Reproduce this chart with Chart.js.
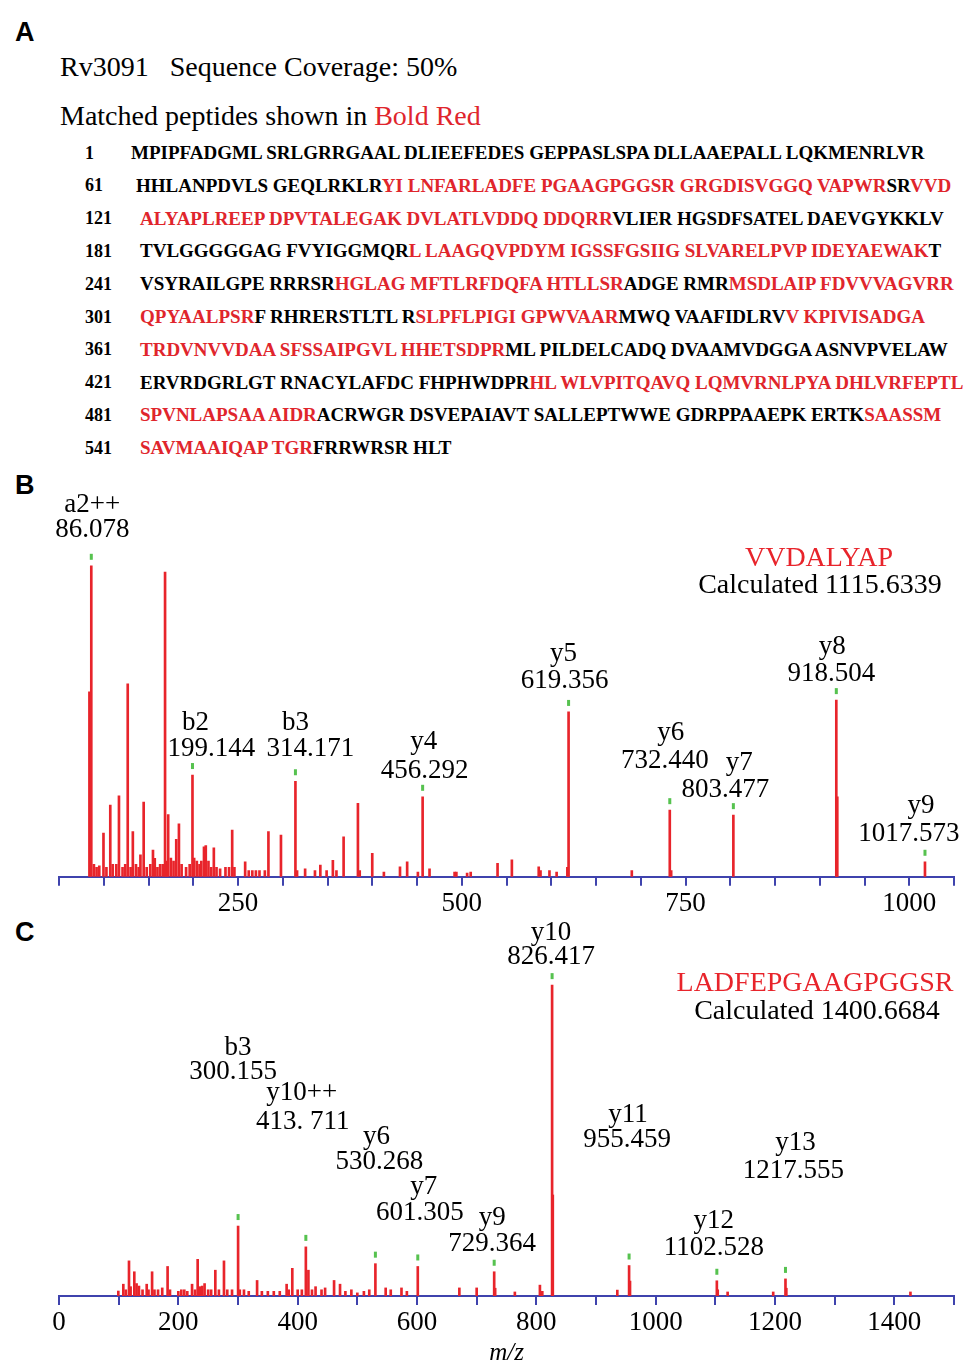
<!DOCTYPE html>
<html>
<head>
<meta charset="utf-8">
<script src="https://cdn.jsdelivr.net/npm/chart.js@4.4.1/dist/chart.umd.min.js"></script>
<style>
  body { margin: 0; width: 975px; height: 1371px; position: relative; background: #fff; overflow: hidden; font-family: "Liberation Serif", "Times New Roman", serif; color: #000; }
  .tag { position: absolute; left: 15px; font: bold 27px "Liberation Sans", Arial, sans-serif; line-height: 1; }
  .head { position: absolute; left: 60px; font-size: 28px; line-height: 1; white-space: pre; }
  .red { color: #e0252c; }
  .num { position: absolute; left: 85px; font-weight: bold; font-size: 18px; line-height: 1; }
  .seq { position: absolute; font-weight: bold; font-size: 19px; line-height: 1; white-space: pre; }
  canvas { position: absolute; left: 0; }
</style>
</head>
<body>
<div class="tag" style="top:19px">A</div>
<div class="tag" style="top:472px">B</div>
<div class="tag" style="top:919px">C</div>
<div class="head" style="top:53px">Rv3091   Sequence Coverage: 50%</div>
<div class="head" style="top:102px">Matched peptides shown in <span class="red">Bold Red</span></div>
<div id="seqbox"></div>

<canvas id="chartB" width="975" height="460" style="top:470px"></canvas>
<canvas id="chartC" width="975" height="456" style="top:915px"></canvas>

<script>
// panel A: Rv3091 sequence and matched peptide ranges (residue numbers)
const sequence =
  'MPIPFADGMLSRLGRRGAALDLIEEFEDESGEPPASLSPADLLAAEPALLLQKMENRLVR' +
  'HHLANPDVLSGEQLRKLRYILNFARLADFEPGAAGPGGSRGRGDISVGGQVAPWRSRVVD' +
  'ALYAPLREEPDPVTALEGAKDVLATLVDDQDDQRRVLIERHGSDFSATELDAEVGYKKLV' +
  'TVLGGGGGAGFVYIGGMQRLLAAGQVPDYMIGSSFGSIIGSLVARELPVPIDEYAEWAKT' +
  'VSYRAILGPERRRSRHGLAGMFTLRFDQFAHTLLSRADGERMRMSDLAIPFDVVVAGVRR' +
  'QPYAALPSRFRHRERSTLTLRSLPFLPIGIGPWVAARMWQVAAFIDLRVVKPIVISADGA' +
  'TRDVNVVDAASFSSAIPGVLHHETSDPRMLPILDELCADQDVAAMVDGGAASNVPVELAW' +
  'ERVRDGRLGTRNACYLAFDCFHPHWDPRHLWLVPITQAVQLQMVRNLPYADHLVRFEPTL' +
  'SPVNLAPSAAAIDRACRWGRDSVEPAIAVTSALLEPTWWEGDRPPAAEPKERTKSAASSM' +
  'SAVMAAIQAPTGRFRRWRSRHLT';
const matchedRanges = [[79, 115], [118, 155], [200, 239], [256, 276], [284, 309], [322, 337], [350, 388], [449, 494], [535, 553]];

// panel B: VVDALYAP spectrum
const mzB = [84.0, 86.08, 89, 92, 95, 99.7, 103, 107.3, 110, 114, 117, 121, 124, 126.8, 130, 132.5, 136, 139, 141, 144.6,
  148, 152, 155, 157, 160, 163, 166, 168.5, 170, 172, 175, 178, 181, 184, 187, 192, 196, 199.14, 201, 204,
  207, 209, 212, 214, 217, 220, 223, 226, 230, 236, 240, 243.5, 246, 258, 262, 266, 270, 274, 280, 284,
  298, 314.17, 316, 325, 336, 342, 349, 356, 360, 368, 384, 386, 400, 413, 431, 439, 451, 456.29, 464, 492,
  494, 506, 510, 540, 556, 586, 588, 598, 606, 618, 619.36, 690, 732.44, 734, 803.48, 918.5, 919.6, 1017.57];
const intB = [59.5, 100, 4, 3, 3.5, 14, 3, 23, 4, 4, 26, 3, 4, 62, 3, 14.5, 4, 3, 7, 24,
  3, 4, 8.6, 5.9, 3, 4, 4, 98, 5, 20, 6, 5, 12, 17, 4, 3, 4, 32.7, 6, 5,
  4, 5, 9.6, 10, 5, 3, 9.3, 3, 2.5, 3, 3, 15, 3, 4.8, 2, 2, 2, 2, 2, 14.5,
  13.4, 30.7, 2, 2.5, 2, 3.7, 2, 5.3, 2, 12.8, 23.6, 2, 7.5, 1.5, 3.2, 4.8, 1.5, 25.7, 2.5, 1.5,
  1.5, 1.2, 1.5, 4.3, 5.4, 3.2, 2, 2, 1.5, 3, 53, 2, 21.4, 2, 19.8, 56.8, 25.7, 4.8];
const ionNamesB = ['a2++', 'b2', 'b3', 'y4', 'y5', 'y6', 'y7', 'y8', 'y9'];
const ionMzB = [86.078, 199.144, 314.171, 456.292, 619.356, 732.440, 803.477, 918.504, 1017.573];
const ionTextB = ['86.078', '199.144', '314.171', '456.292', '619.356', '732.440', '803.477', '918.504', '1017.573'];
const peptideB = 'VVDALYAP';
const calcB = 'Calculated 1115.6339';
const ticksB = [250, 500, 750, 1000];

// panel C: LADFEPGAAGPGGSR spectrum
const mzC = [99.4, 107.8, 112, 117.3, 120, 126.2, 130, 134, 140, 147, 150, 156, 160, 166, 173, 182, 186, 200, 205, 210,
  215, 223, 228, 232.4, 236, 240, 244, 250, 255, 262, 268, 276.5, 282, 290, 300.16, 303, 310, 318, 332, 340,
  350, 360, 370, 381.5, 385, 391, 400, 407, 413.71, 418, 424, 430, 440, 446, 461, 471, 480, 490, 500, 511,
  520, 530.27, 547.5, 556, 574, 583, 601.31, 671, 700, 729.36, 731, 764, 806, 810, 826.42, 827.6, 935.7, 955.46, 957, 1102.53,
  1104, 1120.6, 1197, 1217.56, 1219, 1427];
const intC = [1.6, 3.8, 2, 11.3, 3, 7.8, 4, 3.2, 2, 3.8, 2, 7.8, 2, 2, 2.6, 9.5, 2, 1.5, 2, 2,
  1.5, 3.8, 2, 11.8, 3, 3.2, 4, 2, 2, 8.3, 2, 11.3, 2, 2, 22.5, 2, 2, 1.5, 5, 1.5,
  1.5, 1.5, 1.5, 3.8, 2, 8.9, 2, 2, 15.8, 8.3, 2, 3, 2, 2.6, 5, 3.8, 1.5, 2, 1, 1.5,
  2, 10.4, 2.6, 2, 2.6, 1.5, 9.5, 2.6, 2.6, 7.8, 2.5, 1.3, 3.5, 1.5, 100, 32.5, 1.9, 9.8, 4.8, 4.9,
  2, 1.3, 1.3, 5.5, 2.5, 1.3];
const ionNamesC = ['y10', 'b3', 'y10++', 'y6', 'y7', 'y9', 'y11', 'y12', 'y13'];
const ionMzC = [826.417, 300.155, 413.711, 530.268, 601.305, 729.364, 955.459, 1102.528, 1217.555];
const ionTextC = ['826.417', '300.155', '413. 711', '530.268', '601.305', '729.364', '955.459', '1102.528', '1217.555'];
const peptideC = 'LADFEPGAAGPGGSR';
const calcC = 'Calculated 1400.6684';
const ticksC = [0, 200, 400, 600, 800, 1000, 1200, 1400];

const RED = '#e8242b';
const GREEN = '#56c24f';
const BLUE = '#3f43ad';
const SERIF = '"Liberation Serif", "Times New Roman", serif';

// ---- panel A text ----
const rowIndent = [131, 136, 140, 140, 140, 140, 140, 140, 140, 140];
const box = document.getElementById('seqbox');
const isRed = i => matchedRanges.some(r => i >= r[0] && i <= r[1]);
for (let row = 0; row * 60 < sequence.length; row++) {
  const top = 143 + row * 32.8;
  const num = document.createElement('div');
  num.className = 'num';
  num.style.top = (top + 0.5) + 'px';
  num.textContent = row * 60 + 1;
  box.appendChild(num);

  const line = document.createElement('div');
  line.className = 'seq';
  line.style.top = top + 'px';
  line.style.left = rowIndent[row] + 'px';
  let html = '', cur = null;
  for (let k = 0; k < 60 && row * 60 + k < sequence.length; k++) {
    const pos = row * 60 + k + 1;
    if (k > 0 && k % 10 === 0) html += ' ';
    const red = isRed(pos);
    if (red !== cur) {
      if (cur !== null) html += '</span>';
      html += red ? '<span class="red">' : '<span>';
      cur = red;
    }
    html += sequence[pos - 1];
  }
  html += '</span>';
  line.innerHTML = html;
  box.appendChild(line);
}

// ---- peak labels plugin ----
const peakLabels = {
  id: 'peakLabels',
  afterDatasetsDraw(chart, args, opts) {
    const { ctx, scales: { x, y } } = chart;
    const off = opts.pageTop;
    const mz = chart.data.datasets[0].data;
    ctx.save();
    ctx.textAlign = 'center';
    ctx.textBaseline = 'middle';
    opts.mz.forEach((m, i) => {
      // nearest peak in data to get the top
      let best = mz[0];
      mz.forEach(p => { if (Math.abs(p.x - m) < Math.abs(best.x - m)) best = p; });
      const px = x.getPixelForValue(best.x);
      const py = y.getPixelForValue(best.y);
      ctx.fillStyle = GREEN;
      ctx.fillRect(px - 1.5, py - 12, 3, 6);
      const l = opts.layout[i];
      ctx.fillStyle = '#000';
      ctx.font = '27px ' + SERIF;
      ctx.fillText(opts.names[i], px + l[0], l[1] - off);
      ctx.fillText(opts.texts[i], px + l[2], l[3] - off);
    });
    ctx.font = '28px ' + SERIF;
    ctx.fillStyle = RED;
    ctx.fillText(opts.peptide, opts.title[0], opts.title[1] - off);
    ctx.fillStyle = '#000';
    ctx.fillText(opts.calc, opts.title[2], opts.title[3] - off);
    ctx.restore();
  }
};

function spectrum(id, mz, inten, cfg) {
  return new Chart(document.getElementById(id), {
    type: 'bar',
    data: {
      datasets: [{
        data: mz.map((m, i) => ({ x: m, y: inten[i] })),
        backgroundColor: RED,
        barThickness: 2,
        grouped: false
      }]
    },
    options: {
      responsive: false,
      animation: false,
      events: [],
      layout: { padding: { left: 59, right: 21, top: cfg.padTop, bottom: 0 } },
      plugins: {
        legend: { display: false },
        tooltip: { enabled: false },
        peakLabels: cfg.labels
      },
      scales: {
        x: {
          type: 'linear',
          offset: false,
          min: cfg.min,
          max: cfg.max,
          afterBuildTicks: s => {
            s.ticks = [];
            for (let v = cfg.min; v <= cfg.max; v += cfg.step) s.ticks.push({ value: v });
          },
          afterFit: s => { s.height = cfg.axisH; },
          ticks: {
            autoSkip: false,
            maxRotation: 0,
            padding: 2,
            color: '#000',
            font: { family: SERIF, size: 27 },
            callback: v => cfg.labelled.includes(v) ? String(v) : ''
          },
          grid: { drawOnChartArea: false, offset: false, tickLength: 9, color: BLUE, lineWidth: 2 },
          border: { display: true, color: BLUE, width: 2 },
          title: cfg.title
        },
        y: { display: false, min: 0, max: cfg.yMax }
      }
    },
    plugins: [peakLabels]
  });
}

spectrum('chartB', mzB, intB, {
  min: 50, max: 1050, step: 50, labelled: ticksB, padTop: 70, axisH: 53.3, yMax: 108.3,
  title: { display: false },
  labels: {
    pageTop: 470, mz: ionMzB, names: ionNamesB, texts: ionTextB,
    layout: [[1, 505, 1, 530], [3, 723, 19, 749], [0, 723, 15, 749], [1, 742, 2, 771], [-5, 654, -4, 681],
      [1, 733, -5, 761], [6, 763, -8, 790], [-4, 647, -5, 674], [-4, 806, -16, 834]],
    peptide: peptideB, calc: calcB, title: [819, 559, 820, 586]
  }
});

spectrum('chartC', mzC, intC, {
  min: 0, max: 1500, step: 100, labelled: ticksC, padTop: 35, axisH: 75, yMax: 111.3,
  title: { display: true, text: 'm/z', color: '#000', font: { family: SERIF, size: 25, style: 'italic' }, padding: { top: 0, bottom: 3 } },
  labels: {
    pageTop: 915, mz: ionMzC, names: ionNamesC, texts: ionTextC,
    layout: [[-1, 933, -1, 957], [0, 1048, -5, 1072], [-4, 1093, -3, 1122], [1, 1137, 4, 1162], [6, 1187, 2, 1213],
      [-2, 1218, -2, 1244], [-1, 1115, -2, 1140], [-3, 1221, -3, 1248], [10, 1143, 8, 1171]],
    peptide: peptideC, calc: calcC, title: [815, 984, 817, 1012]
  }
});
</script>
</body>
</html>
